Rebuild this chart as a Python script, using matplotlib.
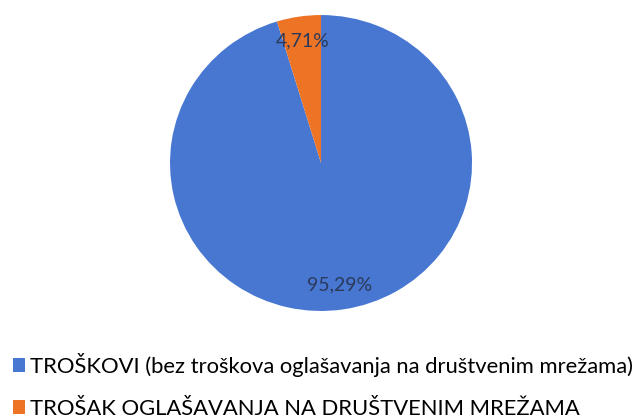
import numpy as np
import matplotlib.pyplot as plt

# podaci
kategorije = ['TROŠKOVI (bez troškova oglašavanja na društvenim mrežama)',
              'TROŠAK OGLAŠAVANJA NA DRUŠTVENIM MREŽAMA']
udjeli = [95.29, 4.71]
boje = ['#4877d2', '#ee7425']

fig = plt.figure(figsize=(6.43, 4.18), dpi=100)
ax = fig.add_axes([0.2644, 0.256, 0.4697, 0.708])

wedges, texts, autotexts = ax.pie(udjeli, colors=boje, startangle=90, counterclock=False,
                                  autopct=lambda p: ('%.2f%%' % p).replace('.', ','),
                                  pctdistance=0.835,
                                  textprops={'fontsize': 14, 'color': '#2b3a5a', 'family': 'Lato'})
ax.set_aspect('auto')
ax.set_xlim(-1, 1)
ax.set_ylim(-1, 1)

fig.legend(wedges, kategorije, loc='upper left', bbox_to_anchor=(0.02, 0.156),
           frameon=False, prop={'family': 'Lato', 'size': 15.8},
           handlelength=0.55, handleheight=0.55, handletextpad=0.25,
           labelspacing=1.0, borderpad=0, borderaxespad=0)

plt.savefig('out.png', dpi=100)
